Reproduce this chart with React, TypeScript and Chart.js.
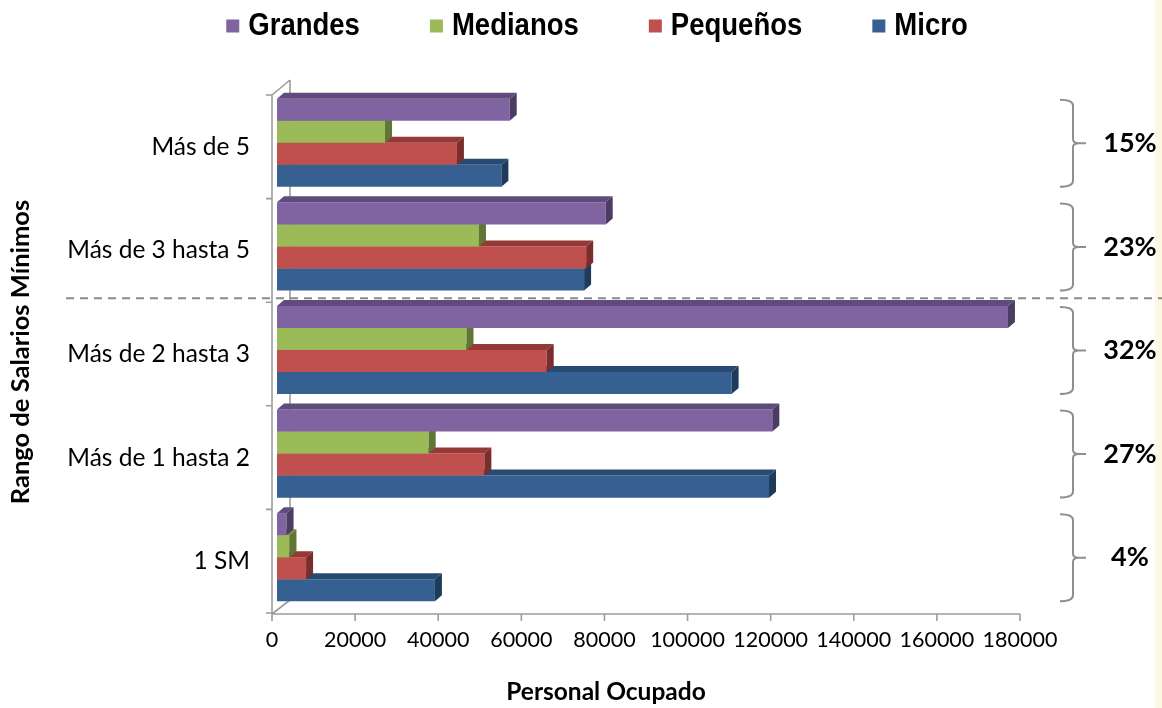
import React, { useEffect, useRef } from 'react';
import { Chart, registerables } from 'chart.js';

Chart.register(...registerables);

const categories = ['Más de 5', 'Más de 3 hasta 5', 'Más de 2 hasta 3', 'Más de 1 hasta 2', '1 SM'];
const grandes = [56000, 79100, 175900, 119200, 2300];
const medianos = [26000, 48600, 45600, 36500, 3000];
const pequenos = [43300, 74400, 64900, 49900, 7000];
const micro = [54000, 73900, 109400, 118400, 38000];
const percentLabels = ['15%', '23%', '32%', '27%', '4%'];
const xTickValues = [0, 20000, 40000, 60000, 80000, 100000, 120000, 140000, 160000, 180000];
const seriesNames = ['Grandes', 'Medianos', 'Pequeños', 'Micro'];

const frontColors = ['#8064A2', '#9BBB59', '#C0504D', '#366092'];
const topColors = ['#5F4B7C', '#738C40', '#943936', '#284A72'];
const sideColors = ['#4C3B63', '#5F7634', '#7A2D2B', '#1F3B5C'];

const BAR_SHIFT_X = 5;
const BAR_SHIFT_Y = -4;
const DEPTH_X = 7;
const DEPTH_Y = -6;

const decor = {
  id: 'decor',
  beforeDraw(chart: any) {
    const ctx = chart.ctx;
    ctx.save();
    ctx.fillStyle = '#ffffff';
    ctx.fillRect(0, 0, chart.width, chart.height);
    ctx.fillStyle = '#FEF7E6';
    ctx.fillRect(chart.width - 7, 0, 7, chart.height);
    ctx.restore();
  },
  beforeDatasetsDraw(chart: any) {
    const ctx = chart.ctx;
    const { left, right, top, bottom } = chart.chartArea;
    const xs = chart.scales.x;
    ctx.save();
    ctx.strokeStyle = '#9c9c9c';
    ctx.lineWidth = 1.6;
    ctx.beginPath();
    ctx.moveTo(left + 18, top - 15);
    ctx.lineTo(left + 18, bottom - 13);
    ctx.moveTo(left, top);
    ctx.lineTo(left + 18, top - 15);
    ctx.moveTo(left, bottom + 1);
    ctx.lineTo(left + 18, bottom - 13);
    ctx.moveTo(left, top);
    ctx.lineTo(left, bottom + 1);
    ctx.moveTo(left, bottom + 1);
    ctx.lineTo(right, bottom + 1);
    ctx.stroke();
    ctx.beginPath();
    xTickValues.forEach((v) => {
      const x = xs.getPixelForValue(v);
      ctx.moveTo(x, bottom + 1);
      ctx.lineTo(x, bottom + 8);
    });
    const n = categories.length;
    for (let i = 0; i <= n; i++) {
      const y = top + ((bottom - top) * i) / n;
      ctx.moveTo(left - 6, y);
      ctx.lineTo(left, y);
    }
    ctx.stroke();
    ctx.restore();
    ctx.save();
    ctx.translate(BAR_SHIFT_X, BAR_SHIFT_Y);
  },
  afterDatasetDraw(chart: any, args: any) {
    const ctx = chart.ctx;
    const idx = args.index;
    const meta = args.meta;
    meta.data.forEach((el: any) => {
      const p = el.getProps(['x', 'y', 'base', 'height'], true);
      const l = Math.min(p.base, p.x);
      const r = Math.max(p.base, p.x);
      const t = p.y - p.height / 2;
      const b = p.y + p.height / 2;
      ctx.fillStyle = topColors[idx];
      ctx.beginPath();
      ctx.moveTo(l, t);
      ctx.lineTo(l + DEPTH_X, t + DEPTH_Y);
      ctx.lineTo(r + DEPTH_X, t + DEPTH_Y);
      ctx.lineTo(r, t);
      ctx.closePath();
      ctx.fill();
      ctx.fillStyle = sideColors[idx];
      ctx.beginPath();
      ctx.moveTo(r, t);
      ctx.lineTo(r + DEPTH_X, t + DEPTH_Y);
      ctx.lineTo(r + DEPTH_X, b + DEPTH_Y);
      ctx.lineTo(r, b);
      ctx.closePath();
      ctx.fill();
    });
  },
  afterDatasetsDraw(chart: any) {
    const ctx = chart.ctx;
    ctx.restore();
    const ys = chart.scales.y;
    const W = chart.width;

    const ySep = (ys.getPixelForValue(1) + ys.getPixelForValue(2)) / 2 + BAR_SHIFT_Y;
    ctx.save();
    ctx.strokeStyle = '#8a8a8a';
    ctx.lineWidth = 2;
    ctx.setLineDash([8, 6]);
    ctx.beginPath();
    ctx.moveTo(66, ySep);
    ctx.lineTo(W, ySep);
    ctx.stroke();
    ctx.restore();

    ctx.save();
    ctx.strokeStyle = '#8f8f8f';
    ctx.lineWidth = 2;
    const half = 43.5;
    const sx = 1073;
    percentLabels.forEach((lab, i) => {
      const c = ys.getPixelForValue(i) + BAR_SHIFT_Y + 0.5;
      const t = c - half;
      const b = c + half;
      ctx.beginPath();
      ctx.moveTo(1060, t);
      ctx.quadraticCurveTo(sx, t, sx, t + 6);
      ctx.lineTo(sx, c - 4);
      ctx.quadraticCurveTo(sx, c, sx + 6, c);
      ctx.lineTo(1086, c);
      ctx.moveTo(sx + 6, c);
      ctx.quadraticCurveTo(sx, c, sx, c + 4);
      ctx.lineTo(sx, b - 6);
      ctx.quadraticCurveTo(sx, b, 1060, b);
      ctx.stroke();
      ctx.fillStyle = '#000';
      ctx.font = 'bold 27px Lato, sans-serif';
      ctx.textAlign = 'center';
      ctx.textBaseline = 'middle';
      ctx.fillText(lab, 1130, c);
    });
    ctx.restore();

    // legend (condensed bold sans)
    ctx.save();
    ctx.font = 'bold 32px "Liberation Sans", Arial, sans-serif';
    ctx.textBaseline = 'middle';
    ctx.textAlign = 'left';
    const squeeze = 0.86;
    const sq = 13;
    const gapSq = 9;
    const gapItem = 70;
    const widths = seriesNames.map((s) => ctx.measureText(s).width * squeeze);
    const total = widths.reduce((a, w) => a + sq + gapSq + w, 0) + gapItem * (seriesNames.length - 1);
    let x = 597 - total / 2;
    const ly = 26;
    seriesNames.forEach((s, i) => {
      ctx.fillStyle = frontColors[i];
      ctx.fillRect(x, ly - sq / 2, sq, sq);
      ctx.fillStyle = '#000';
      ctx.save();
      ctx.translate(x + sq + gapSq, ly);
      ctx.scale(squeeze, 1);
      ctx.fillText(s, 0, 0);
      ctx.restore();
      x += sq + gapSq + widths[i] + gapItem;
    });
    ctx.restore();

    ctx.save();
    ctx.fillStyle = '#000';
    ctx.textAlign = 'center';
    ctx.textBaseline = 'middle';
    ctx.font = 'bold 24.5px Lato, sans-serif';
    ctx.fillText('Personal Ocupado', 606, 692);
    ctx.font = 'bold 25.5px Lato, sans-serif';
    ctx.translate(21, 352);
    ctx.rotate(-Math.PI / 2);
    ctx.fillText('Rango de Salarios Mínimos', 0, 0);
    ctx.restore();
  },
};

export default function App() {
  const ref = useRef<HTMLCanvasElement>(null);
  useEffect(() => {
    document.body.style.margin = '0';
    document.body.style.overflow = 'hidden';
    const seriesData = [grandes, medianos, pequenos, micro];
    const chart = new Chart(ref.current as HTMLCanvasElement, {
      type: 'bar',
      data: {
        labels: categories,
        datasets: seriesNames.map((name, i) => ({
          label: name,
          data: seriesData[i],
          backgroundColor: frontColors[i],
          borderWidth: 0,
          barPercentage: 1,
          categoryPercentage: 0.85,
          clip: false as any,
        })),
      },
      options: {
        indexAxis: 'y',
        responsive: false,
        animation: false,
        events: [],
        layout: { padding: { left: 0, right: 142, top: 95, bottom: 0 } },
        plugins: {
          legend: { display: false },
          tooltip: { enabled: false },
          title: { display: false },
        },
        scales: {
          x: {
            type: 'linear',
            min: 0,
            max: 180000,
            afterBuildTicks: (s: any) => {
              s.ticks = xTickValues.map((v) => ({ value: v }));
            },
            afterFit: (s: any) => {
              s.height = 95;
            },
            ticks: {
              callback: (v: any) => String(v),
              font: { family: 'Lato, sans-serif', size: 21.5 },
              color: '#000',
              padding: 14,
              maxRotation: 0,
              autoSkip: false,
            },
            grid: { display: false, drawTicks: false },
            border: { display: false },
          },
          y: {
            type: 'category',
            afterFit: (s: any) => {
              s.width = 272;
            },
            ticks: {
              font: { family: 'Lato, sans-serif', size: 24.5 },
              color: '#000',
              padding: 22,
            },
            grid: { display: false, drawTicks: false },
            border: { display: false },
          },
        },
      },
      plugins: [decor],
    } as any);
    return () => chart.destroy();
  }, []);
  return (
    <div style={{ width: 1162, height: 708, position: 'relative', background: '#fff' }}>
      <canvas ref={ref} width={1162} height={708} style={{ display: 'block', width: 1162, height: 708 }} />
    </div>
  );
}
